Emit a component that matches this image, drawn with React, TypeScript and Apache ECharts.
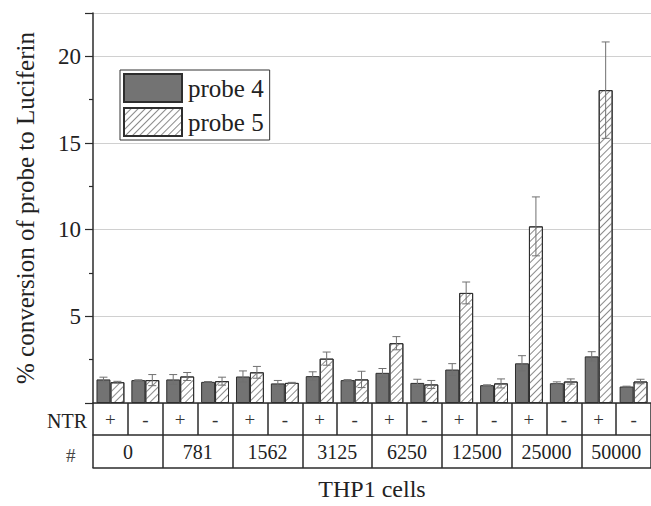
import React, { useEffect, useRef } from "react";
import * as echarts from "echarts";

const ntrSigns = ["+", "-", "+", "-", "+", "-", "+", "-", "+", "-", "+", "-", "+", "-", "+", "-"];
const cellCounts = ["0", "781", "1562", "3125", "6250", "12500", "25000", "50000"];
const probe4 = [1.36, 1.32, 1.36, 1.22, 1.53, 1.13, 1.55, 1.32, 1.74, 1.16, 1.93, 1.03, 2.29, 1.14, 2.69, 0.95];
const probe4Err = [0.13, 0.02, 0.28, 0.02, 0.32, 0.17, 0.25, 0.03, 0.25, 0.21, 0.34, 0.02, 0.44, 0.08, 0.27, 0.02];
const probe5 = [1.2, 1.32, 1.53, 1.26, 1.77, 1.16, 2.56, 1.36, 3.45, 1.07, 6.35, 1.13, 10.19, 1.24, 18.05, 1.24];
const probe5Err = [0.05, 0.32, 0.23, 0.23, 0.34, 0.03, 0.38, 0.47, 0.38, 0.23, 0.63, 0.26, 1.7, 0.15, 2.78, 0.13];
const yTicks = [5, 10, 15, 20];

const FONT = "'Liberation Serif', 'Times New Roman', Times, serif";
const LINE = "#2b2b2b";

export default function App() {
  const ref = useRef<HTMLDivElement>(null);
  useEffect(() => {
    if (!ref.current) return;
    document.body.style.margin = "0";
    const chart = echarts.init(ref.current, null, { renderer: "svg" });
    const errData = (vals: number[], errs: number[], side: number) =>
      vals.map((v, i) => [i, v, errs[i], side]);
    const renderErr = (params: any, api: any) => {
      const x = api.value(0);
      const y = api.value(1);
      const e = api.value(2);
      const side = api.value(3);
      const band = api.size([1, 0])[0];
      const bw = (band * 0.8) / 2;
      const off = side === 0 ? -bw / 2 : bw / 2;
      const top = api.coord([x, y + e]);
      const bot = api.coord([x, y - e]);
      const cx = top[0] + off;
      const cap = 4;
      const style = { stroke: "#707070", lineWidth: 1 };
      return {
        type: "group",
        children: [
          { type: "line", shape: { x1: cx, y1: top[1], x2: cx, y2: bot[1] }, style },
          { type: "line", shape: { x1: cx - cap, y1: top[1], x2: cx + cap, y2: top[1] }, style },
          { type: "line", shape: { x1: cx - cap, y1: bot[1], x2: cx + cap, y2: bot[1] }, style },
        ],
      };
    };
    chart.setOption({
      animation: false,
      backgroundColor: "#ffffff",
      textStyle: { fontFamily: FONT },
      grid: { left: 93, right: -3, top: 13, bottom: 99, containLabel: false },
      legend: {
        left: 120,
        top: 70,
        orient: "vertical",
        itemWidth: 58,
        itemHeight: 28,
        itemGap: 4,
        padding: [3, 6, 3, 3],
        borderColor: "#333",
        borderWidth: 1,
        backgroundColor: "#fff",
        icon: "rect",
        textStyle: { fontFamily: FONT, fontSize: 25, color: "#222", padding: [0, 0, 0, 1] },
        data: ["probe 4", "probe 5"],
      },
      xAxis: [
        {
          type: "category",
          data: ntrSigns,
          position: "bottom",
          axisLine: { show: true, lineStyle: { color: LINE, width: 1.5 } },
          axisTick: { show: true, inside: false, length: 32, lineStyle: { color: LINE, width: 1.5 } },
          axisLabel: { fontFamily: FONT, fontSize: 19, color: "#333", margin: 7 },
          splitLine: { show: false },
        },
        {
          type: "category",
          data: cellCounts,
          position: "bottom",
          offset: 32,
          axisLine: { show: true, lineStyle: { color: LINE, width: 1.5 } },
          axisTick: { show: true, inside: false, length: 33, lineStyle: { color: LINE, width: 1.5 } },
          axisLabel: { fontFamily: FONT, fontSize: 20, color: "#222", margin: 7 },
          splitLine: { show: false },
        },
        {
          type: "category",
          data: cellCounts,
          position: "bottom",
          offset: 65,
          axisLine: { show: true, lineStyle: { color: LINE, width: 1.5 } },
          axisTick: { show: false },
          axisLabel: { show: false },
          name: "THP1 cells",
          nameLocation: "middle",
          nameGap: 9,
          nameTextStyle: { fontFamily: FONT, fontSize: 24, color: "#222" },
        },
      ],
      yAxis: {
        type: "value",
        min: 0,
        max: 22.5,
        interval: 5,
        name: "% conversion of probe to Luciferin",
        nameLocation: "middle",
        nameGap: 55,
        nameTextStyle: { fontFamily: FONT, fontSize: 25, color: "#222" },
        axisLine: { show: true, lineStyle: { color: LINE, width: 1.5 } },
        axisTick: { show: true, inside: false, length: 8, lineStyle: { color: LINE, width: 1.2 } },
        minorTick: { show: true, splitNumber: 2, length: 4, lineStyle: { color: LINE, width: 1.2 } },
        axisLabel: {
          fontFamily: FONT,
          fontSize: 23,
          color: "#222",
          margin: 12,
          formatter: (v: number) => (yTicks.includes(v) ? String(v) : ""),
        },
        splitLine: { show: true, lineStyle: { color: "#d0d0d0", width: 1.2 } },
      },
      series: [
        {
          name: "probe 4",
          type: "bar",
          data: probe4,
          barGap: "0%",
          barCategoryGap: "20%",
          itemStyle: { color: "#737373", borderColor: "#2e2e2e", borderWidth: 1 },
        },
        {
          name: "probe 5",
          type: "bar",
          data: probe5,
          barGap: "0%",
          barCategoryGap: "20%",
          itemStyle: {
            color: "#ffffff",
            borderColor: "#2e2e2e",
            borderWidth: 1,
            decal: {
              symbol: "rect",
              symbolSize: 1,
              dashArrayX: [1, 0],
              dashArrayY: [1, 4],
              rotation: -Math.PI / 4,
              color: "#8a8a8a",
            },
          },
        },
        {
          type: "custom",
          renderItem: renderErr,
          data: errData(probe4, probe4Err, 0),
          encode: { x: 0, y: 1 },
          z: 5,
          silent: true,
        },
        {
          type: "custom",
          renderItem: renderErr,
          data: errData(probe5, probe5Err, 1),
          encode: { x: 0, y: 1 },
          z: 5,
          silent: true,
        },
      ],
      graphic: [
        {
          type: "text",
          left: 47,
          top: 411,
          style: { text: "NTR", fontFamily: FONT, fontSize: 20, fill: "#222" },
        },
        {
          type: "text",
          left: 66,
          top: 446,
          style: { text: "#", fontFamily: FONT, fontSize: 19, fill: "#444" },
        },
      ],
    });
    return () => chart.dispose();
  }, []);
  return <div ref={ref} style={{ width: 651, height: 506 }} />;
}
